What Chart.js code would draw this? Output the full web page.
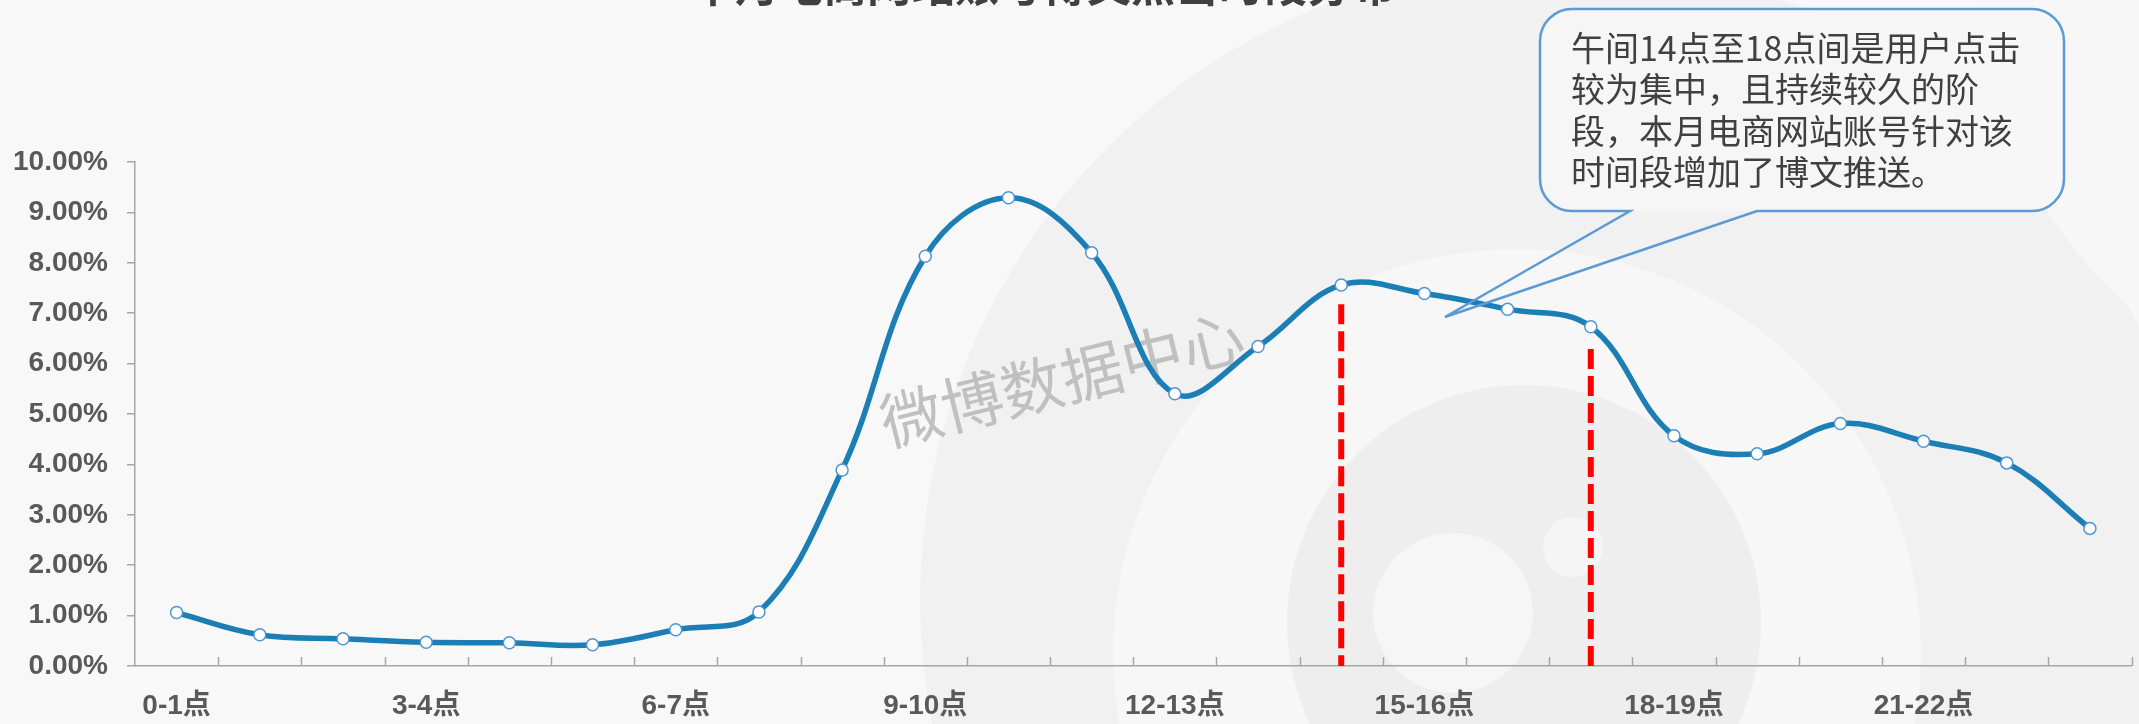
<!DOCTYPE html>
<html>
<head>
<meta charset="utf-8">
<script src="https://cdn.jsdelivr.net/npm/chart.js@4.4.0/dist/chart.umd.min.js"></script>
<style>
html, body { margin: 0; padding: 0; background: #f7f7f7; overflow: hidden; }
#wrap { width: 2139px; height: 724px; position: relative; }
</style>
</head>
<body>
<div id="wrap"><canvas id="linechart"></canvas></div>
<script>
// hour buckets along the x axis
const hourLabels = ['0-1点', '1-2点', '2-3点', '3-4点', '4-5点', '5-6点', '6-7点', '7-8点',
    '8-9点', '9-10点', '10-11点', '11-12点', '12-13点', '13-14点', '14-15点', '15-16点',
    '16-17点', '17-18点', '18-19点', '19-20点', '20-21点', '21-22点', '22-23点', '23-24点'];

// share of clicks per hour, in percent
const clickShare = [1.06, 0.62, 0.54, 0.47, 0.46, 0.42, 0.72, 1.07,
    3.89, 8.13, 9.29, 8.20, 5.40, 6.34, 7.56, 7.39,
    7.08, 6.73, 4.57, 4.21, 4.81, 4.46, 4.03, 2.73];

// y axis range
const yMin = 0;
const yMax = 10;
const yStep = 1;

// red dashed markers (14点 and 18点)
const markerHours = ['14-15点', '17-18点'];
const markerTops = [7.18, 6.29];

const titleText = '本月电商网站账号博文点击时段分布';
const noteLines = ['午间14点至18点间是用户点击', '较为集中，且持续较久的阶', '段，本月电商网站账号针对该', '时间段增加了博文推送。'];
const watermarkText = '微博数据中心';

// faint weibo logo in the background
const bgPlugin = {
    id: 'bg',
    beforeDraw: (chart) => {
        const ctx = chart.ctx;
        ctx.save();
        ctx.fillStyle = '#f8f8f8';
        ctx.fillRect(0, 0, chart.width, chart.height);
        const circle = (x, y, r, c) => {
            ctx.fillStyle = c;
            ctx.beginPath();
            ctx.arc(x, y, r, 0, Math.PI * 2);
            ctx.fill();
        };
        circle(1560, 600, 640, '#f1f1f1');
        circle(2450, -50, 480, '#f7f7f7');
        circle(1517, 653, 404, '#f7f7f7');
        circle(1524, 622, 237, '#eeeeee');
        circle(1453, 613, 80, '#f6f6f6');
        circle(1573, 547, 30, '#f5f5f5');
        ctx.restore();
    }
};

const watermarkPlugin = {
    id: 'watermark',
    beforeDatasetsDraw: (chart) => {
        const ctx = chart.ctx;
        ctx.save();
        ctx.translate(1062, 379);
        ctx.rotate(-14 * Math.PI / 180);
        ctx.font = '62px "Noto Sans CJK SC"';
        ctx.fillStyle = '#c0c0c0';
        ctx.textAlign = 'center';
        ctx.textBaseline = 'middle';
        ctx.fillText(watermarkText, 0, 0);
        ctx.restore();
    }
};

// small tick marks between categories, pointing up into the plot
const innerTicks = {
    id: 'innerTicks',
    afterDraw: (chart) => {
        const ctx = chart.ctx;
        const xs = chart.scales.x;
        const bottom = chart.chartArea.bottom;
        ctx.save();
        ctx.strokeStyle = '#a6a6a6';
        ctx.lineWidth = 1.5;
        ctx.beginPath();
        for (let i = 1; i <= hourLabels.length; i++) {
            const x = Math.round(xs.getPixelForValue(i - 0.5)) + 0.5;
            ctx.moveTo(x, bottom);
            ctx.lineTo(x, bottom - 9);
        }
        ctx.stroke();
        ctx.restore();
    }
};

const calloutPlugin = {
    id: 'callout',
    afterDraw: (chart) => {
        const ctx = chart.ctx;
        const x0 = 1540, y0 = 9, x1 = 2064, y1 = 211, r = 32;
        const tipX = 1445, tipY = 317, b0 = 1630, b1 = 1757;
        ctx.save();
        // box fill
        ctx.beginPath();
        ctx.moveTo(x0 + r, y0);
        ctx.arcTo(x1, y0, x1, y1, r);
        ctx.arcTo(x1, y1, x0, y1, r);
        ctx.arcTo(x0, y1, x0, y0, r);
        ctx.arcTo(x0, y0, x1, y0, r);
        ctx.closePath();
        ctx.fillStyle = 'rgba(246,246,246,0.9)';
        ctx.fill();
        // outline with pointer
        ctx.beginPath();
        ctx.moveTo(x0 + r, y0);
        ctx.arcTo(x1, y0, x1, y1, r);
        ctx.arcTo(x1, y1, x0, y1, r);
        ctx.lineTo(b1, y1);
        ctx.lineTo(tipX, tipY);
        ctx.lineTo(b0, y1);
        ctx.arcTo(x0, y1, x0, y0, r);
        ctx.arcTo(x0, y0, x1, y0, r);
        ctx.closePath();
        ctx.strokeStyle = '#5b9bd5';
        ctx.lineWidth = 2.5;
        ctx.lineJoin = 'miter';
        ctx.stroke();
        // text
        ctx.font = '34px "Noto Sans CJK SC"';
        ctx.fillStyle = '#404040';
        ctx.textAlign = 'left';
        ctx.textBaseline = 'middle';
        noteLines.forEach((t, i) => ctx.fillText(t, 1571, 48 + i * 41.5));
        ctx.restore();
    }
};

// title sits mostly above the visible area
const titlePlugin = {
    id: 'cutTitle',
    afterDraw: (chart) => {
        const ctx = chart.ctx;
        ctx.save();
        ctx.font = 'bold 44px "Noto Sans CJK SC"';
        ctx.fillStyle = '#404040';
        ctx.textAlign = 'center';
        ctx.textBaseline = 'alphabetic';
        ctx.fillText(titleText, 1043, 2);
        ctx.restore();
    }
};

const markerSets = markerHours.map((h, i) => ({
    type: 'line',
    data: [{ x: h, y: markerTops[i] }, { x: h, y: yMin }],
    borderColor: '#ff0000',
    borderWidth: 6,
    borderDash: [20, 7],
    pointRadius: 0,
    tension: 0,
    fill: false,
    order: 2
}));

const ctx = document.getElementById('linechart').getContext('2d');
new Chart(ctx, {
    type: 'line',
    data: {
        labels: hourLabels,
        datasets: [{
            label: '点击占比',
            data: clickShare,
            borderColor: '#1b7fb5',
            borderWidth: 5.5,
            tension: 0.38,
            pointRadius: 6,
            pointBackgroundColor: '#ffffff',
            pointBorderColor: '#4f94d4',
            pointBorderWidth: 1.5,
            fill: false,
            order: 1
        }].concat(markerSets)
    },
    options: {
        responsive: true,
        maintainAspectRatio: false,
        animation: false,
        layout: { padding: { top: 162, left: 0, right: 0, bottom: 0 } },
        plugins: {
            legend: { display: false },
            tooltip: { enabled: false },
            title: { display: false }
        },
        scales: {
            x: {
                type: 'category',
                offset: true,
                grid: { display: false },
                border: { display: true, color: '#a6a6a6', width: 1.5 },
                ticks: {
                    autoSkip: false,
                    maxRotation: 0,
                    padding: 15,
                    color: '#595959',
                    font: { family: '"Liberation Sans", "Noto Sans CJK SC"', size: 28, weight: 'bold' },
                    callback: (v, i) => (i % 3 === 0 ? hourLabels[i] : '')
                },
                afterFit: (s) => { s.height = 58; }
            },
            y: {
                min: yMin,
                max: yMax,
                grid: { drawOnChartArea: false, drawTicks: true, tickLength: 8, color: '#a6a6a6', lineWidth: 1.5 },
                border: { display: true, color: '#a6a6a6', width: 1.5 },
                ticks: {
                    stepSize: yStep,
                    padding: 19,
                    color: '#595959',
                    font: { family: '"Liberation Sans", Arial', size: 28, weight: 'bold' },
                    callback: (v) => v.toFixed(2) + '%'
                },
                afterFit: (s) => { s.width = 135; }
            }
        }
    },
    plugins: [bgPlugin, watermarkPlugin, innerTicks, calloutPlugin, titlePlugin]
});
</script>
</body>
</html>
